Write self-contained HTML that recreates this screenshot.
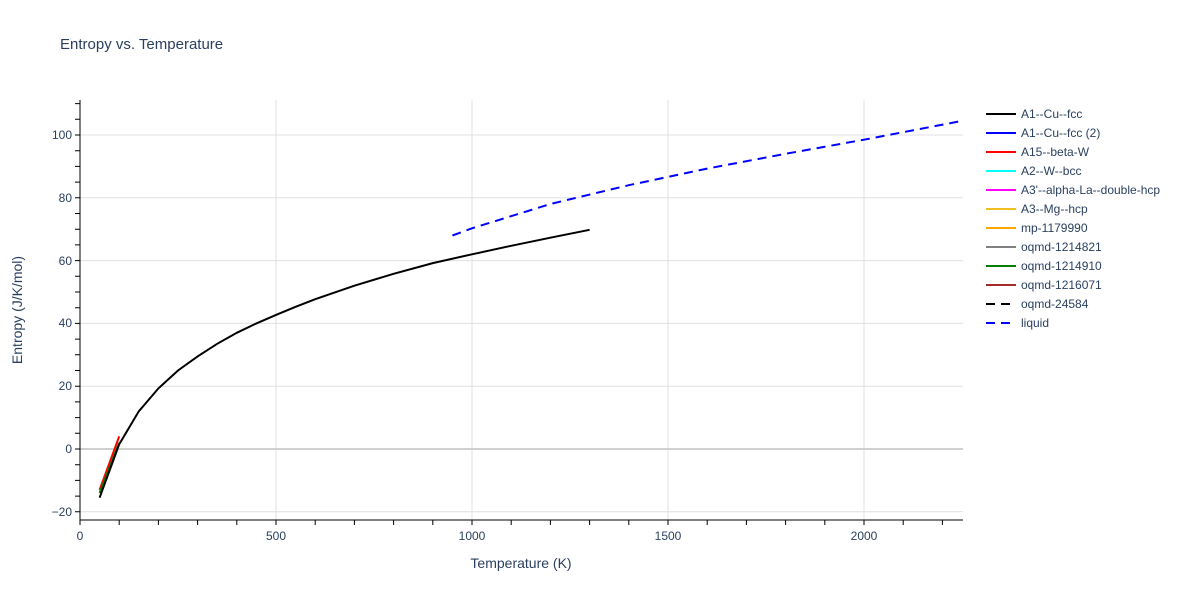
<!DOCTYPE html><html><head><style>body{margin:0;background:#fff}svg text{font-family:"Liberation Sans",sans-serif}</style></head><body>
<svg width="1200" height="600" xmlns="http://www.w3.org/2000/svg">
<rect width="1200" height="600" fill="#fff"/>
<text x="60" y="45" font-size="15" fill="#2a3f5f" dominant-baseline="middle">Entropy vs. Temperature</text>
<g stroke="#e0e0e0" stroke-width="1">
<line x1="276" y1="100" x2="276" y2="520"/><line x1="472" y1="100" x2="472" y2="520"/><line x1="668" y1="100" x2="668" y2="520"/><line x1="864" y1="100" x2="864" y2="520"/>
<line x1="80" y1="511.8" x2="963" y2="511.8"/><line x1="80" y1="386.2" x2="963" y2="386.2"/><line x1="80" y1="323.4" x2="963" y2="323.4"/><line x1="80" y1="260.6" x2="963" y2="260.6"/><line x1="80" y1="197.8" x2="963" y2="197.8"/><line x1="80" y1="135" x2="963" y2="135"/>
</g>
<line x1="80" y1="449" x2="963" y2="449" stroke="#d0d0d0" stroke-width="2"/>
<g stroke="#000" stroke-width="1">
<line x1="80" y1="100" x2="80" y2="520"/><line x1="79.5" y1="520" x2="963" y2="520"/>
<path d="M75 103.6H80M75 119.3H80M75 135H80M75 150.7H80M75 166.4H80M75 182.1H80M75 197.8H80M75 213.5H80M75 229.2H80M75 244.9H80M75 260.6H80M75 276.3H80M75 292H80M75 307.7H80M75 323.4H80M75 339.1H80M75 354.8H80M75 370.5H80M75 386.2H80M75 401.9H80M75 417.6H80M75 433.3H80M75 449H80M75 464.7H80M75 480.4H80M75 496.1H80M75 511.8H80"/>
<path d="M80 520V525M119.2 520V525M158.4 520V525M197.6 520V525M236.8 520V525M276 520V525M315.2 520V525M354.4 520V525M393.6 520V525M432.8 520V525M472 520V525M511.2 520V525M550.4 520V525M589.6 520V525M628.8 520V525M668 520V525M707.2 520V525M746.4 520V525M785.6 520V525M824.8 520V525M864 520V525M903.2 520V525M942.4 520V525"/>
</g>
<g font-size="12" fill="#2a3f5f" text-anchor="end">
<text x="72" y="516">−20</text><text x="72" y="453">0</text><text x="72" y="390">20</text><text x="72" y="327">40</text><text x="72" y="265">60</text><text x="72" y="202">80</text><text x="72" y="139">100</text>
</g>
<g font-size="12" fill="#2a3f5f" text-anchor="middle">
<text x="80" y="540">0</text><text x="276" y="540">500</text><text x="472" y="540">1000</text><text x="668" y="540">1500</text><text x="864" y="540">2000</text>
</g>
<text x="521" y="568" font-size="14" fill="#2a3f5f" text-anchor="middle">Temperature (K)</text>
<text transform="translate(22,310) rotate(-90)" font-size="14" fill="#2a3f5f" text-anchor="middle">Entropy (J/K/mol)</text>
<polyline fill="none" stroke="#ff0000" stroke-width="2" points="99.6,489.8 119.2,436.4"/>
<polyline fill="none" stroke="#008000" stroke-width="2" points="99.6,493 119.2,442.7"/>
<polyline fill="none" stroke="#000" stroke-width="2" points="99.6,497.7 119.2,444.3 138.8,411.3 158.4,388.4 178,370.5 197.6,356.4 217.2,343.8 236.8,332.8 256.4,323.4 276,314.9 295.6,306.8 315.2,299.2 354.4,285.7 393.6,273.8 432.8,263.1 472,254.3 511.2,245.8 550.4,237.7 589.6,229.8"/>
<polyline fill="none" stroke="#0000ff" stroke-width="2" stroke-dasharray="9,6" points="452.4,235.5 472,228.3 550.4,204 628.8,185.2 707.2,168.6 785.6,153.8 864,139.7 962,120.9"/>
<g font-size="12" fill="#2a3f5f" stroke-width="2">
<line x1="986" y1="114" x2="1016" y2="114" stroke="#000"/><text x="1021" y="118">A1--Cu--fcc</text>
<line x1="986" y1="133" x2="1016" y2="133" stroke="#0000ff"/><text x="1021" y="137">A1--Cu--fcc (2)</text>
<line x1="986" y1="152" x2="1016" y2="152" stroke="#ff0000"/><text x="1021" y="156">A15--beta-W</text>
<line x1="986" y1="171" x2="1016" y2="171" stroke="#00ffff"/><text x="1021" y="175">A2--W--bcc</text>
<line x1="986" y1="190" x2="1016" y2="190" stroke="#ff00ff"/><text x="1021" y="194">A3'--alpha-La--double-hcp</text>
<line x1="986" y1="209" x2="1016" y2="209" stroke="#f0c020"/><text x="1021" y="213">A3--Mg--hcp</text>
<line x1="986" y1="228" x2="1016" y2="228" stroke="#ffa500"/><text x="1021" y="232">mp-1179990</text>
<line x1="986" y1="247" x2="1016" y2="247" stroke="#808080"/><text x="1021" y="251">oqmd-1214821</text>
<line x1="986" y1="266" x2="1016" y2="266" stroke="#008000"/><text x="1021" y="270">oqmd-1214910</text>
<line x1="986" y1="285" x2="1016" y2="285" stroke="#a52a2a"/><text x="1021" y="289">oqmd-1216071</text>
<line x1="986" y1="304" x2="1016" y2="304" stroke="#000" stroke-dasharray="9,6"/><text x="1021" y="308">oqmd-24584</text>
<line x1="986" y1="323" x2="1016" y2="323" stroke="#0000ff" stroke-dasharray="9,6"/><text x="1021" y="327">liquid</text>
</g>
</svg></body></html>
